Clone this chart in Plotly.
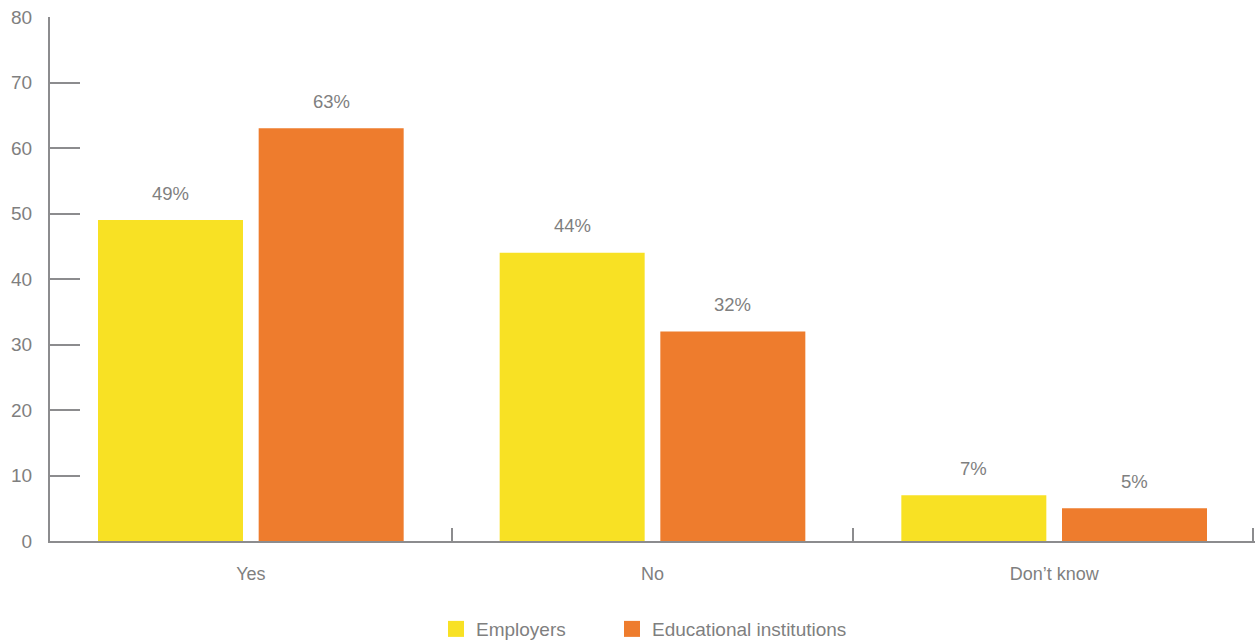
import plotly.graph_objects as go

categories = ["Yes", "No", "Don\u2019t know"]
employers = [49, 44, 7]
education = [63, 32, 5]
series_names = ["Employers", "Educational institutions"]
series_colors = ["#F8E124", "#EE7C2D"]
y_ticks = [0, 10, 20, 30, 40, 50, 60, 70, 80]

GRAY = "#8C8C8E"
TEXT = "#7F7F7F"
FONT = "Liberation Sans, Arial, sans-serif"

pos = list(range(len(categories)))
legend_ids = ["legend", "legend2"]
fig = go.Figure()
for name, vals, color, off, lg in zip(series_names, [employers, education], series_colors,
                                      [-0.2, 0.2], legend_ids):
    fig.add_trace(go.Bar(
        x=[p + off for p in pos], y=vals, name=name, width=0.361, showlegend=False,
        marker=dict(color=color, line=dict(width=0)),
    ))
    for p, v in zip(pos, vals):
        fig.add_annotation(x=p + off, y=v, text=f"{v}%", showarrow=False,
                           yshift=27, font=dict(size=18.5, color=TEXT, family=FONT))
    # legend entry with a larger square swatch
    fig.add_trace(go.Scatter(x=[None], y=[None], mode="markers", name=name, legend=lg,
                             marker=dict(symbol="square", size=16, color=color)))

# invisible helper trace to activate the boundary-tick axis
fig.add_trace(go.Scatter(x=[-0.5, 2.5], y=[0, 0], xaxis="x2", mode="lines",
                         line=dict(width=0), showlegend=False, hoverinfo="skip"))

legend_style = dict(orientation="h", y=-0.168, yanchor="middle", xanchor="left",
                    font=dict(size=19, color=TEXT), itemwidth=30, bgcolor="rgba(0,0,0,0)")

fig.update_layout(
    width=1259, height=641,
    margin=dict(l=50, r=4, t=17, b=100, autoexpand=False),
    plot_bgcolor="white", paper_bgcolor="white",
    font=dict(family=FONT, size=18, color=TEXT),
    barmode="overlay",
    showlegend=True,
    legend=dict(x=(436 - 50) / 1205, **legend_style),
    legend2=dict(x=(612 - 50) / 1205, **legend_style),
    xaxis=dict(range=[-0.5, 2.5], tickvals=pos, ticktext=categories, ticks="",
               showline=True, linecolor=GRAY, linewidth=2, showgrid=False, zeroline=False,
               tickfont=dict(size=18, color=TEXT), ticklabelstandoff=15),
    xaxis2=dict(range=[-0.5, 2.5], overlaying="x", side="bottom", anchor="y",
                tickvals=[0.5, 1.5, 2.496], ticks="inside", ticklen=13, tickwidth=2,
                tickcolor=GRAY, showticklabels=False, showline=False, showgrid=False,
                zeroline=False),
    yaxis=dict(range=[0, 80], tickvals=y_ticks, ticks="inside", ticklen=30, tickwidth=2,
               tickcolor=GRAY, showline=True, linecolor=GRAY, linewidth=2,
               showgrid=False, zeroline=False, tickfont=dict(size=19, color=TEXT),
               ticklabelstandoff=12),
)

fig.write_html("out.html")
